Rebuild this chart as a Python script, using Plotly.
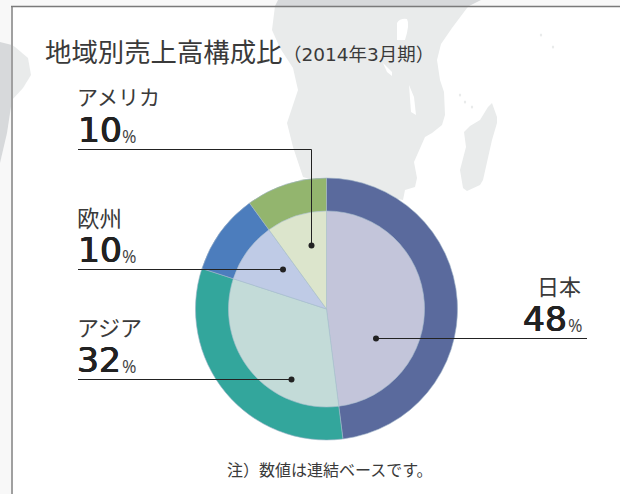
import plotly.graph_objects as go

# ---- data ----
regions = ["日本", "アジア", "欧州", "アメリカ"]
percent = [48, 32, 10, 10]
outer_colors = ["#5a6a9d", "#33a69c", "#4c7dbd", "#93b56e"]
inner_colors = ["#c3c5da", "#c3dbd8", "#bfcbe6", "#dce5cc"]

title_main = "地域別売上高構成比"
title_sub = "（2014年3月期）"
footnote = "注）数値は連結ベースです。"

JP = "Noto Sans CJK JP"
NUM = "DejaVu Sans"
INK = "#3a3a3a"
DARK = "#222222"
W, H = 620, 494
CX, CY, RO, RI = 326.5, 309, 131, 98


def dom(cx, cy, r):
    return dict(x=[(cx - r) / W, (cx + r) / W], y=[1 - (cy + r) / H, 1 - (cy - r) / H])


def pie(colors, r, line):
    return go.Pie(values=percent, labels=regions, sort=False, direction="clockwise",
                  rotation=0, hole=0, textinfo="none", hoverinfo="label",
                  showlegend=False, domain=dom(CX, CY, r),
                  marker=dict(colors=colors, line=dict(color=line, width=0.6)))


fig = go.Figure()
fig.add_trace(go.Scatter(x=[0, W], y=[0, H], mode="markers", marker=dict(opacity=0),
                         hoverinfo="skip", showlegend=False))
fig.add_trace(pie(outer_colors, RO, "#9fb4c8"))
fig.add_trace(pie(inner_colors, RI, "#a9c0cf"))

LAND = "#e9ebeb"
LAND_DARK = "#d7d9db"
OUTSIDE = "#f8f8f8"

africa = ("M 275 6 L 272 30 L 280 48 L 293 68 L 298 90 L 287 123 L 293 147 L 303 177 "
          "L 330 185 L 403 200 L 405 190 L 415 187 L 417 178 L 414 162 L 425 137 L 432 133 "
          "L 442 125 L 445 115 L 444 92 L 440 80 L 437 60 L 441 44 L 452 28 L 467 8 L 469 6 Z")
lake1 = "M 397 23 Q 400 18 407 19 Q 410 24 405 40 L 397 40 Z"
lake2 = "M 383 63 L 392 72 L 392 76 L 387 72 Z"
lake3 = "M 409 85 L 414 97 L 416 115 L 411 112 Z"
madagascar = ("M 492 103 L 497 117 L 497 123 L 492 140 L 483 180 L 480 185 L 467 191 L 463 188 "
              "L 460 170 L 466 147 L 464 132 L 470 126 L 480 120 L 488 107 Z")
left_land = "M 12 45 L 15 47 L 28 58 L 31 75 L 23 88 L 12 100 Z"
left_dark = "M 0 42 L 12 45 L 12 100 L 7 133 L 0 163 Z"
top_dark = "M 278 0 L 275 6 L 469 6 L 481 0 Z"
outside = "M 0 0 L 620 0 L 620 6 L 12 6 L 12 494 L 0 494 Z"

shapes = []
for p, c in [(outside, OUTSIDE), (left_dark, LAND_DARK), (top_dark, LAND_DARK), (left_land, LAND),
             (africa, LAND), (lake1, "#ffffff"), (lake2, "#ffffff"), (lake3, "#ffffff"),
             (madagascar, LAND)]:
    shapes.append(dict(type="path", path=p, fillcolor=c, line=dict(width=0), layer="below",
                       xref="x", yref="y"))
for (ix, iy) in [(460, 95), (465, 102), (472, 107), (541, 35), (553, 47)]:
    shapes.append(dict(type="circle", x0=ix - 1.2, x1=ix + 1.2, y0=iy - 1.5, y1=iy + 1.5,
                       fillcolor=LAND, line=dict(width=0), layer="below", xref="x", yref="y"))
shapes.append(dict(type="path", path="M 12 494 L 12 6.5", line=dict(color="#a0a0a0", width=2),
                   layer="below", xref="x", yref="y"))
shapes.append(dict(type="path", path="M 11 6.5 L 620 6.5", line=dict(color="#7a7a7a", width=1.3),
                   layer="below", xref="x", yref="y"))

leaders = [
    "M 78 149.5 L 311.5 149.5 L 311.5 245",
    "M 78 269.5 L 283 269.5",
    "M 78 379.5 L 291.5 379.5",
    "M 376 338.5 L 587 338.5",
]
dots = [(311.5, 245.5), (283, 269.5), (291.5, 379.5), (376, 338.5)]
for p in leaders:
    shapes.append(dict(type="path", path=p, line=dict(color=DARK, width=1), xref="x", yref="y"))
for dx, dy in dots:
    shapes.append(dict(type="circle", x0=dx - 3, x1=dx + 3, y0=dy - 3, y1=dy + 3, fillcolor=DARK,
                       line=dict(width=0), xref="x", yref="y"))


def txt(x, y, s, size, font=JP, anchor="left", color=INK, **kw):
    return dict(x=x, y=y, xref="x", yref="y", text=s, showarrow=False, xanchor=anchor, yanchor="middle",
                font=dict(family=font, size=size, color=color, **kw), borderpad=0, borderwidth=0)


THICK = "0.55px 0 0 #222222, -0.55px 0 0 #222222, 0 0.3px 0 #222222"


def big(x, y, v, anchor="left"):
    return txt(x, y, str(v), 34.5, NUM, anchor, DARK, shadow=THICK)


def pc(x, y, anchor="left"):
    return txt(x, y, "%", 17.5, "Open Sans", anchor, "#444444")


annotations = [
    txt(45, 50, title_main, 26.4),
    txt(283, 54, title_sub, 18.5, "DejaVu Sans, " + JP),
    txt(77, 96, regions[3], 21), big(78, 130, percent[3]), pc(122, 136),
    txt(77, 217, regions[2], 22.5), big(78, 250, percent[2]), pc(122, 256),
    txt(77, 326, regions[1], 22), big(77, 360, percent[1]), pc(122, 366),
    txt(581, 285, regions[0], 22, anchor="right"), big(567, 319, percent[0], "right"), pc(582, 325, "right"),
    txt(227, 469, footnote, 16),
]

fig.update_layout(
    width=W, height=H, margin=dict(l=0, r=0, t=0, b=0), autosize=False,
    paper_bgcolor="#ffffff", plot_bgcolor="rgba(0,0,0,0)", showlegend=False,
    xaxis=dict(range=[0, W], visible=False, fixedrange=True),
    yaxis=dict(range=[H, 0], visible=False, fixedrange=True),
    shapes=shapes, annotations=annotations,
)
fig.write_html("out.html", config={"displayModeBar": False},
               post_script="document.body.style.margin='0';document.body.style.overflow='hidden';")
